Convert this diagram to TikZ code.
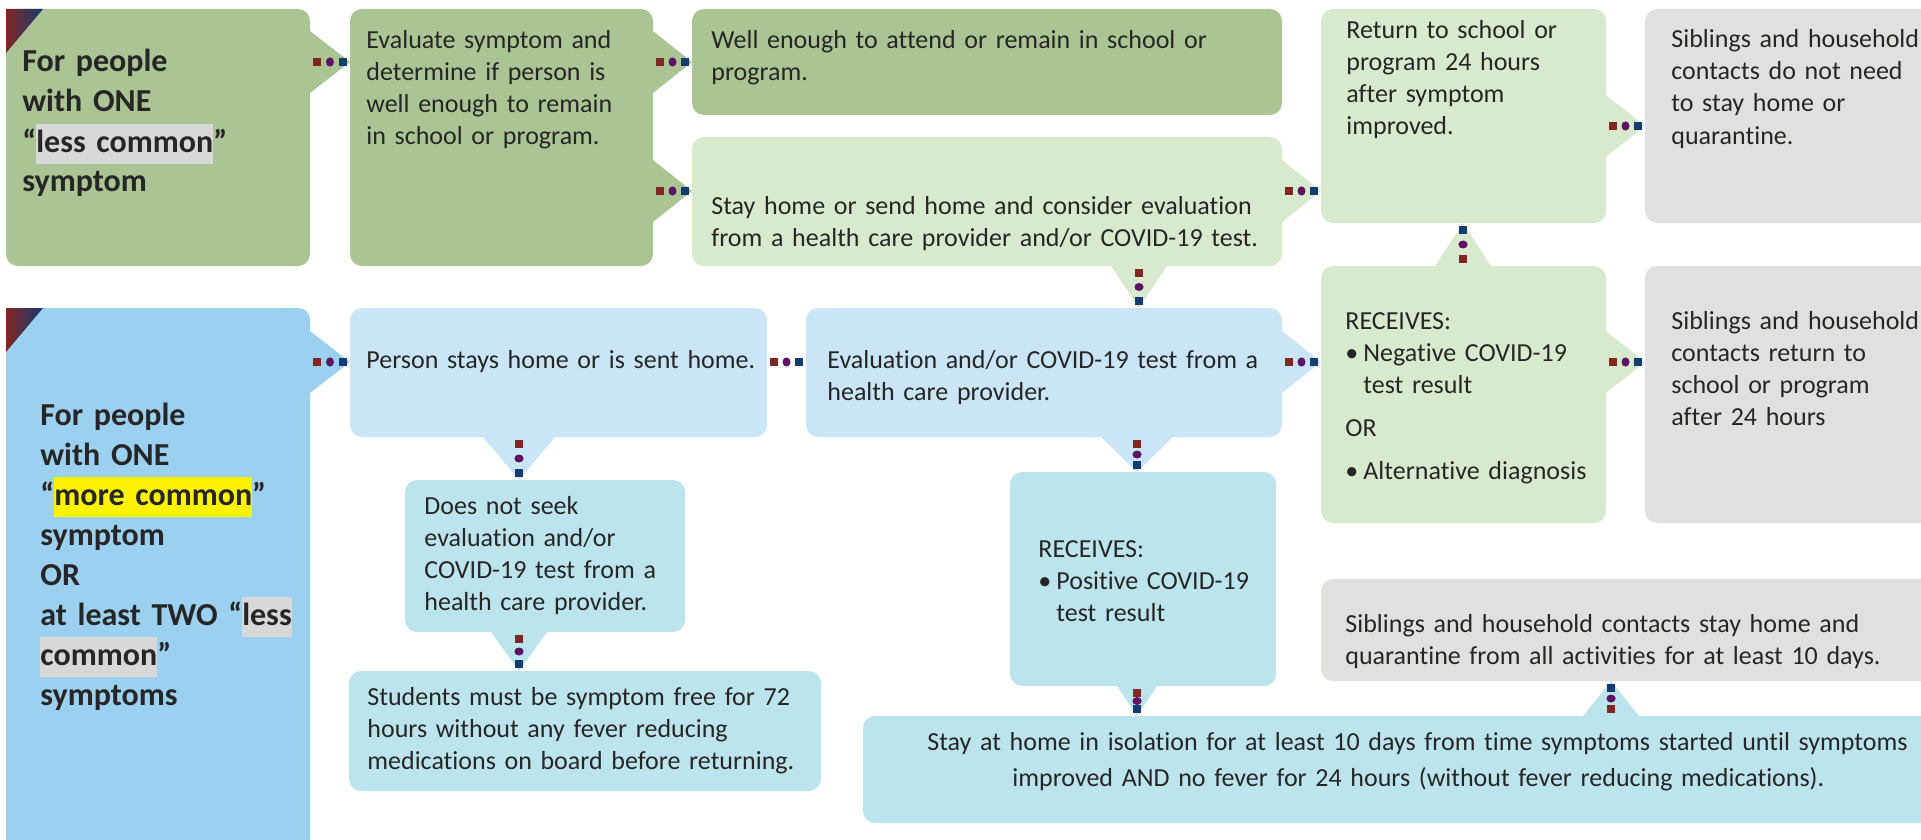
\documentclass[tikz,border=0pt]{standalone}
\usepackage{fontspec}
\setmainfont{Carlito}[Ligatures=NoCommon]
\usetikzlibrary{positioning,calc,decorations.markings}

\definecolor{dgreen}{RGB}{170,196,147}
\definecolor{lgreen}{RGB}{216,234,206}
\definecolor{cgrey}{RGB}{224,225,223}
\definecolor{ablue}{RGB}{155,208,240}
\definecolor{lblue}{RGB}{201,229,246}
\definecolor{cyanb}{RGB}{187,228,237}
\definecolor{hlgrey}{RGB}{216,216,216}
\definecolor{ink}{RGB}{38,38,38}
\definecolor{dotred}{RGB}{130,38,36}
\definecolor{dotpurple}{RGB}{94,18,100}
\definecolor{dotblue}{RGB}{20,60,112}

\newcommand{\hilite}[2]{\smash{\setlength{\fboxsep}{0pt}\colorbox{#1}{\strut #2}}}
\newcommand{\bul}{\makebox[9pt][l]{\textbullet}}
% pointer triangle + dotted link, #1 = half width of the pointer
\newcommand{\flowlink}[4][15.5pt]{%
  \fill[#2] ($(#3)!#1!90:(#4)$) -- (#4) -- ($(#3)!#1!-90:(#4)$) -- cycle;
  \path[conn] (#3) -- (#4);}

\begin{document}
\begin{tikzpicture}[x=0.5pt,y=-0.5pt,
  box/.style={rounded corners=6pt,anchor=north west,inner sep=0pt,outer sep=0pt},
  txt/.style={anchor=base west,inner sep=0pt,text=ink,text width=620pt,align=left,
              font=\fontsize{13}{16}\selectfont},
  head/.style={txt,font=\fontsize{16}{20}\selectfont\bfseries},
  conn/.style={postaction=decorate,decoration={markings,
      mark=at position 3.5pt with {\fill[dotred] (-1.8pt,-2.1pt) rectangle (1.8pt,2.1pt);},
      mark=at position 0.5 with {\fill[dotpurple] (0,0) ellipse (2pt and 2.3pt);},
      mark=at position -3.5pt with {\fill[dotblue] (-1.8pt,-2.1pt) rectangle (1.8pt,2.1pt);}}}]
\useasboundingbox (0,0) rectangle (1921,840);
\clip (0,0) rectangle (1921,840);

% boxes
\node[box,fill=dgreen,minimum width=152pt,minimum height=128.5pt] (A1) at (6,9) {};
\node[box,fill=dgreen,minimum width=151.5pt,minimum height=128.5pt] (B1) at (350,9) {};
\node[box,fill=dgreen,minimum width=295pt,minimum height=53pt] (C1) at (692,9) {};
\node[box,fill=lgreen,minimum width=295pt,minimum height=64.5pt] (C2) at (692,137) {};
\node[box,fill=lgreen,minimum width=142.5pt,minimum height=107pt] (D1) at (1321,9) {};
\node[box,fill=cgrey,minimum width=147.5pt,minimum height=107pt] (E1) at (1645,9) {};
\node[box,fill=ablue,minimum width=152pt,minimum height=276pt] (A2) at (6,308) {};
\node[box,fill=lblue,minimum width=208.5pt,minimum height=64.5pt] (B2) at (350,308) {};
\node[box,fill=lblue,minimum width=238pt,minimum height=64.5pt] (F2) at (806,308) {};
\node[box,fill=lgreen,minimum width=142.5pt,minimum height=128.5pt] (D2) at (1321,266) {};
\node[box,fill=cgrey,minimum width=147.5pt,minimum height=128.5pt] (E2) at (1645,266) {};
\node[box,fill=cyanb,minimum width=140pt,minimum height=76pt] (B3) at (405,480) {};
\node[box,fill=cyanb,minimum width=236pt,minimum height=60pt] (B4) at (349,671) {};
\node[box,fill=cyanb,minimum width=133pt,minimum height=107pt] (F3) at (1010,472) {};
\node[box,fill=cgrey,minimum width=309.5pt,minimum height=51pt] (G3) at (1321,579) {};
\node[box,fill=cyanb,minimum width=538.5pt,minimum height=53.5pt] (H3) at (863,716) {};

\shade[left color=dotred,middle color=dotpurple,right color=dotblue]
  (A1.north west) -- ++(37,0) -- ++(-37,44) -- cycle;
\shade[left color=dotred,middle color=dotpurple,right color=dotblue]
  (A2.north west) -- ++(37,0) -- ++(-37,44) -- cycle;

% links
\flowlink{dgreen}{A1.east |- 0,62}{B1.west |- 0,62}
\flowlink{dgreen}{B1.east |- 0,62}{C1.west |- 0,62}
\flowlink{dgreen}{B1.east |- 0,191}{C2.west |- 0,191}
\flowlink{lgreen}{C2.east |- 0,191}{D1.west |- 0,191}
\flowlink{lgreen}{D1.east |- 0,126}{E1.west |- 0,126}
\flowlink[14pt]{lgreen}{C2.south -| 1139,0}{F2.north -| 1139,0}
\flowlink[14pt]{lgreen}{D2.north -| 1463,0}{D1.south -| 1463,0}
\flowlink{ablue}{A2.east |- 0,362}{B2.west |- 0,362}
\path[conn] (B2.east |- 0,362) -- (F2.west |- 0,362);
\flowlink{lblue}{F2.east |- 0,362}{D2.west |- 0,362}
\flowlink{lgreen}{D2.east |- 0,362}{E2.west |- 0,362}
\flowlink[18pt]{lblue}{B2.south -| 519,0}{B3.north -| 519,0}
\flowlink[14pt]{cyanb}{B3.south -| 519,0}{B4.north -| 519,0}
\flowlink[18pt]{lblue}{F2.south -| 1137,0}{F3.north -| 1137,0}
\flowlink[10pt]{cyanb}{F3.south -| 1137,0}{H3.north -| 1137,0}
\flowlink[14pt]{cyanb}{H3.north -| 1611,0}{G3.south -| 1611,0}

% texts
\node[head] (A1t) at (22,72) {For people\\with ONE\\“\hilite{hlgrey}{less common}”\\symptom};
\node[head] (A2t) at (40,425) {For people\\with ONE\\“\hilite{yellow}{more common}”\\symptom\\OR\\
  at least TWO “\hilite{hlgrey}{less}\\\hilite{hlgrey}{common}”\\symptoms};
\node[txt] (B1t) at (366,49) {Evaluate symptom and\\determine if person is\\well enough to remain\\in school or program.};
\node[txt] (C1t) at (711,49) {Well enough to attend or remain in school or\\program.};
\node[txt] (C2t) at (711,214) {Stay home or send home and consider evaluation\\from a health care provider and/or COVID-19 test.};
\node[txt] (D1t) at (1346,39) {Return to school or\\program 24 hours\\after symptom\\improved.};
\node[txt] (E1t) at (1671,48) {Siblings and household\\contacts do not need\\to stay home or\\quarantine.};
\node[txt] (B2t) at (366,368) {Person stays home or is sent home.};
\node[txt] (F2t) at (827,368) {Evaluation and/or COVID-19 test from a\\health care provider.};
\node[txt] (D2t) at (1345,329) {RECEIVES:\\\bul Negative COVID-19\\\hspace*{9pt}test result\\[5.5pt]OR\\[5.5pt]\bul Alternative diagnosis};
\node[txt] (E2t) at (1671,329) {Siblings and household\\contacts return to\\school or program\\after 24 hours};
\node[txt] (B3t) at (424,514) {Does not seek\\evaluation and/or\\COVID-19 test from a\\health care provider.};
\node[txt] (B4t) at (367,705) {Students must be symptom free for 72\\hours without any fever reducing\\medications on board before returning.};
\node[txt] (F3t) at (1038,557) {RECEIVES:\\\bul Positive COVID-19\\\hspace*{9pt}test result};
\node[txt] (G3t) at (1345,632) {Siblings and household contacts stay home and\\quarantine from all activities for at least 10 days.};
\node[txt] (H3t) at (927,750) {Stay at home in isolation for at least 10 days from time symptoms started until symptoms\\[2pt]
  \hspace*{42.5pt}improved AND no fever for 24 hours (without fever reducing medications).};
\end{tikzpicture}
\end{document}
